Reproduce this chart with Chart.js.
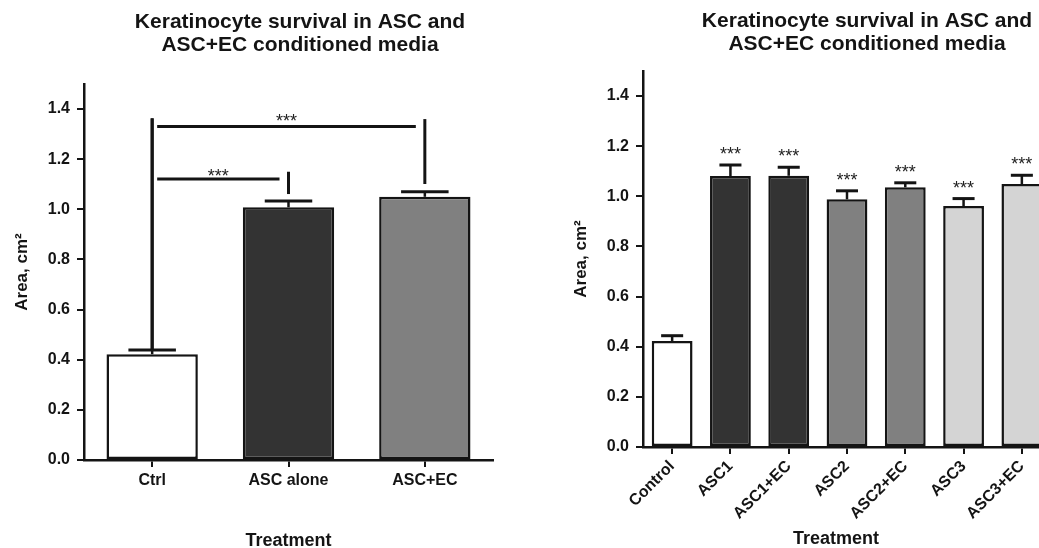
<!DOCTYPE html>
<html><head><meta charset="utf-8">
<script src="https://cdn.jsdelivr.net/npm/chart.js@4.4.1/dist/chart.umd.min.js"></script>
<style>
html,body{margin:0;padding:0;background:#fff;overflow:hidden;width:1039px;height:548px;}
#w1{position:absolute;left:0;top:0;width:520px;height:560px;}
#w2{position:absolute;left:540px;top:0;width:540px;height:560px;}
</style></head><body>
<div id="w1"><canvas id="c1"></canvas></div>
<div id="w2"><canvas id="c2"></canvas></div>
<script>
// ---------- Panel A data ----------
const catsA = ['Ctrl', 'ASC alone', 'ASC+EC'];
const meanA = [0.422, 1.008, 1.050];
const errTopA = [0.439, 1.033, 1.070];
const colorsA = ['#ffffff', '#333333', '#808080'];
// significance brackets (values in y units)
const sigFromA = ['Ctrl', 'Ctrl'];
const sigToA = ['ASC+EC', 'ASC alone'];
const sigFromTopA = [1.363, 1.363];
const sigLineA = [1.330, 1.121];
const sigToTopA = [1.360, 1.150];
const sigToBottomA = [1.101, 1.061];
const sigTextA = ['***', '***'];
const sigTextYA = [1.365, 1.146];

// ---------- Panel B data ----------
const catsB = ['Control', 'ASC1', 'ASC1+EC', 'ASC2', 'ASC2+EC', 'ASC3', 'ASC3+EC'];
const meanB = [0.423, 1.081, 1.082, 0.988, 1.036, 0.961, 1.049];
const errTopB = [0.444, 1.125, 1.116, 1.022, 1.054, 0.991, 1.084];
const colorsB = ['#ffffff', '#333333', '#333333', '#808080', '#808080', '#d4d4d4', '#d4d4d4'];
const starsB = ['', '***', '***', '***', '***', '***', '***'];

// ---------- shared ----------
const yTicks = [0, 0.2, 0.4, 0.6, 0.8, 1.0, 1.2, 1.4];
const titleLines = ['Keratinocyte survival in ASC and', 'ASC+EC conditioned media'];
const FONT = "'Liberation Sans', Arial, Helvetica, sans-serif";
const INK = '#141414';
Chart.defaults.font.family = FONT;
Chart.defaults.color = INK;

const errorBars = {
  id: 'errorBars',
  afterDatasetsDraw(chart, args, o) {
    const ctx = chart.ctx, y = chart.scales.y;
    const meta = chart.getDatasetMeta(0);
    ctx.save();
    ctx.strokeStyle = INK;
    meta.data.forEach((bar, i) => {
      const p = bar.getProps(['x', 'y', 'width'], true);
      const top = y.getPixelForValue(o.tops[i]);
      const half = p.width * o.cap / 2;
      ctx.lineWidth = 2.5;
      ctx.beginPath(); ctx.moveTo(p.x, p.y); ctx.lineTo(p.x, top); ctx.stroke();
      ctx.lineWidth = 3;
      ctx.beginPath(); ctx.moveTo(p.x - half, top); ctx.lineTo(p.x + half, top); ctx.stroke();
      if (o.stars && o.stars[i]) {
        ctx.fillStyle = '#222';
        ctx.font = '18px ' + FONT;
        ctx.textAlign = 'center';
        ctx.textBaseline = 'middle';
        ctx.fillText(o.stars[i], p.x, top - 14 + 4);
      }
    });
    ctx.restore();
  }
};

const brackets = {
  id: 'brackets',
  afterDatasetsDraw(chart, args, o) {
    const ctx = chart.ctx, y = chart.scales.y;
    const meta = chart.getDatasetMeta(0);
    const cx = l => meta.data[catsA.indexOf(l)].x;
    ctx.save();
    ctx.strokeStyle = INK;
    ctx.lineWidth = 3;
    for (let i = 0; i < sigFromA.length; i++) {
      const fi = catsA.indexOf(sigFromA[i]);
      const x0 = cx(sigFromA[i]), x1 = cx(sigToA[i]);
      ctx.beginPath();
      ctx.moveTo(x0, y.getPixelForValue(errTopA[fi]));
      ctx.lineTo(x0, y.getPixelForValue(sigFromTopA[i]));
      ctx.stroke();
      const ly = y.getPixelForValue(sigLineA[i]);
      ctx.beginPath(); ctx.moveTo(x0 + 5, ly); ctx.lineTo(x1 - 9, ly); ctx.stroke();
      ctx.beginPath();
      ctx.moveTo(x1, y.getPixelForValue(sigToTopA[i]));
      ctx.lineTo(x1, y.getPixelForValue(sigToBottomA[i]));
      ctx.stroke();
      ctx.fillStyle = '#222';
      ctx.font = '18px ' + FONT;
      ctx.textAlign = 'center';
      ctx.textBaseline = 'middle';
      ctx.fillText(sigTextA[i], (x0 + 5 + x1 - 9) / 2, y.getPixelForValue(sigTextYA[i]) + 4);
    }
    ctx.restore();
  }
};

const titleShift = {
  id: 'titleShift',
  afterLayout(chart, args, o) {
    const t = chart.titleBlock;
    if (t) {
      const w = t.right - t.left;
      t.left = o.center - w / 2;
      t.right = o.center + w / 2;
    }
    const s = chart.scales.x;
    if (o.xShift && s) {
      const orig = Object.getPrototypeOf(s).drawTitle;
      s.drawTitle = function () {
        this.left += o.xShift; this.right += o.xShift;
        orig.call(this);
        this.left -= o.xShift; this.right -= o.xShift;
      };
    }
  }
};

function makeConfig(cats, means, colors, barPct, cfg) {
  return {
    type: 'bar',
    data: {
      labels: cats,
      datasets: [{
        data: means,
        backgroundColor: colors,
        borderColor: INK,
        borderWidth: 2.5,
        borderSkipped: false,
        barPercentage: barPct,
        categoryPercentage: 1
      }]
    },
    options: {
      responsive: true,
      maintainAspectRatio: false,
      animation: false,
      events: [],
      layout: { padding: { left: 0, right: cfg.padRight, top: 0, bottom: 0 } },
      plugins: {
        legend: { display: false },
        tooltip: { enabled: false },
        title: {
          display: true,
          text: titleLines,
          color: INK,
          font: { size: 21, weight: 'bold', lineHeight: 1.1 },
          padding: { top: cfg.titleTop, bottom: cfg.titleBottom }
        },
        errorBars: { tops: cfg.tops, cap: cfg.cap, stars: cfg.stars },
        titleShift: { center: cfg.titleCenter, xShift: cfg.xShift }
      },
      scales: {
        x: {
          offset: true,
          grid: { display: true, drawOnChartArea: false, offset: false, tickLength: 7, color: INK, lineWidth: 2 },
          border: { display: true, color: INK, width: 2.5 },
          ticks: {
            color: INK,
            font: { size: 16, weight: 'bold' },
            padding: cfg.xTickPad,
            minRotation: cfg.rot, maxRotation: cfg.rot,
            autoSkip: false
          },
          title: {
            display: true, text: 'Treatment', color: INK,
            font: { size: 18, weight: 'bold' },
            padding: { top: 0, bottom: cfg.xTitleBottom }
          },
          afterFit(s) { s.height = cfg.xHeight; }
        },
        y: {
          min: 0, max: 1.5,
          afterBuildTicks(s) { s.ticks = yTicks.map(v => ({ value: v })); },
          grid: { display: true, drawOnChartArea: false, tickLength: 7, color: INK, lineWidth: 2 },
          border: { display: true, color: INK, width: 2.5 },
          ticks: {
            color: INK,
            font: { size: 16, weight: 'bold' },
            padding: 7,
            callback: v => Number(v).toFixed(1)
          },
          title: {
            display: true, text: 'Area, cm²', color: INK,
            font: { size: 17, weight: 'bold' },
            padding: { top: cfg.yTitleTop, bottom: 0 }
          },
          afterFit(s) { s.width = cfg.yWidth; }
        }
      }
    },
    plugins: cfg.extraPlugins
  };
}

new Chart(document.getElementById('c1'), makeConfig(catsA, meanA, colorsA, 0.67, {
  padRight: 27, titleTop: 11, titleBottom: 26.8, tops: errTopA, cap: 0.52, stars: null,
  titleCenter: 300, xShift: 0, xTickPad: 4, rot: 0, xTitleBottom: 7.7, xHeight: 100,
  yTitleTop: 11.8, yWidth: 84, extraPlugins: [errorBars, brackets, titleShift]
}));

new Chart(document.getElementById('c2'), makeConfig(catsB, meanB, colorsB, 0.7, {
  padRight: 29, titleTop: 10, titleBottom: 14.8, tops: errTopB, cap: 0.54, stars: starsB,
  titleCenter: 327, xShift: -11, xTickPad: 3, rot: 45, xTitleBottom: 9.7, xHeight: 113,
  yTitleTop: 31.5, yWidth: 103, extraPlugins: [errorBars, titleShift]
}));
</script>
</body></html>
